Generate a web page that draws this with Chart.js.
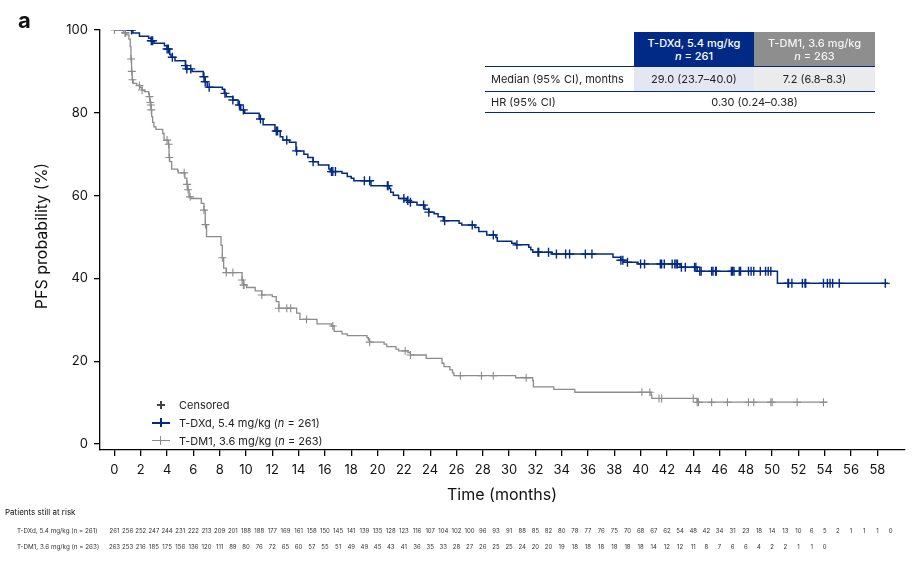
<!DOCTYPE html>
<html>
<head>
<meta charset="utf-8">
<script src="https://cdn.jsdelivr.net/npm/chart.js@4.4.1/dist/chart.umd.min.js"></script>
<style>
  body { margin: 0; background: #fff; font-family: Inter, "Liberation Sans", sans-serif; }
  #wrap { position: relative; width: 918px; height: 562px; overflow: hidden; }
  #chart { position: absolute; left: 0; top: 0; }
  .abs { position: absolute; }
  .hd { display: flex; flex-direction: column; justify-content: center; align-items: center;
        font-size: 11px; font-weight: 500; line-height: 13px; }
  .cell { display: flex; align-items: center; font-size: 11px; color: #222; }
  .hline { background: #002a86; height: 1.3px; }
  .leg { font-size: 11px; color: #222; left: 179px; line-height: 14px; }
</style>
</head>
<body>
<div id="wrap">
  <canvas id="chart" width="918" height="562"></canvas>

  <!-- tabel median / HR kanan atas -->
  <div class="abs hd" style="left:634px;top:32px;width:120px;height:35px;background:#002a86;color:#fff">
    <div>T-DXd, 5.4 mg/kg</div><div><i>n</i> = 261</div>
  </div>
  <div class="abs hd" style="left:754px;top:32px;width:121px;height:35px;background:#8e8e8e;color:#f4f4f4">
    <div>T-DM1, 3.6 mg/kg</div><div><i>n</i> = 263</div>
  </div>
  <div class="abs" style="left:634px;top:67px;width:120px;height:24px;background:#e3e7f1"></div>
  <div class="abs" style="left:754px;top:67px;width:121px;height:24px;background:#ebebeb"></div>
  <div class="abs hline" style="left:485px;top:66px;width:390px"></div>
  <div class="abs hline" style="left:485px;top:90.5px;width:390px;height:1px"></div>
  <div class="abs hline" style="left:485px;top:112px;width:390px"></div>
  <div class="abs cell" style="left:491px;top:67px;height:24px">Median (95% CI), months</div>
  <div class="abs cell" style="left:634px;top:67px;width:120px;height:24px;justify-content:center">29.0 (23.7–40.0)</div>
  <div class="abs cell" style="left:754px;top:67px;width:121px;height:24px;justify-content:center">7.2 (6.8–8.3)</div>
  <div class="abs cell" style="left:491px;top:91px;height:21px">HR (95% CI)</div>
  <div class="abs cell" style="left:634px;top:91px;width:241px;height:21px;justify-content:center">0.30 (0.24–0.38)</div>

  <!-- legenda -->
  <div class="abs" style="left:157px;top:404.3px;width:8px;height:1.5px;background:#444"></div>
  <div class="abs" style="left:160.2px;top:401px;width:1.5px;height:8px;background:#444"></div>
  <div class="abs leg" style="top:398px">Censored</div>

  <div class="abs" style="left:152px;top:422px;width:18px;height:1.5px;background:#002a86"></div>
  <div class="abs" style="left:160px;top:418px;width:1.5px;height:9px;background:#002a86"></div>
  <div class="abs leg" style="top:415.5px">T-DXd, 5.4 mg/kg (<i>n</i> = 261)</div>

  <div class="abs" style="left:152px;top:440px;width:18px;height:1.3px;background:#8c8c8c"></div>
  <div class="abs" style="left:160px;top:436px;width:1.3px;height:9px;background:#8c8c8c"></div>
  <div class="abs leg" style="top:433.5px">T-DM1, 3.6 mg/kg (<i>n</i> = 263)</div>
</div>

<script>
// --- Data kurva Kaplan-Meier ---
const blueTimes = [0, 1.4, 1.9, 2.6, 2.8, 3.0, 3.8, 4.0, 4.2, 4.3, 4.6, 5.4, 5.5, 5.9, 6.75, 6.9, 7.05, 8.2, 8.35, 8.5,
  9.0, 9.4, 9.6, 9.9, 11.0, 11.3, 12.2, 12.6, 12.8, 13.3, 13.8, 14.4, 14.7, 15.1, 15.5, 16.3, 16.4, 17.3, 17.7, 18.0,
  18.2, 19.5, 20.9, 21.0, 21.2, 21.6, 22.2, 22.5, 23.0, 23.6, 23.9, 24.3, 24.6, 25.0, 26.2, 26.4, 27.4, 27.7, 28.3, 29.0,
  29.1, 30.2, 30.5, 31.5, 31.65, 31.8, 33.2, 37.9, 38.5, 38.7, 39.8, 43.0, 44.3, 50.4, 58.8];
const blueSurv = [100, 99.3, 98.5, 98.0, 97.4, 96.8, 96.2, 95.4, 94.1, 93.4, 92.6, 91.4, 90.6, 90.0, 88.7, 87.5, 86.2, 85.7, 84.7, 83.9,
  83.1, 81.9, 80.7, 79.9, 78.5, 77.1, 75.6, 74.2, 73.4, 72.9, 70.8, 70.0, 69.2, 68.2, 67.4, 66.4, 65.8, 65.4, 64.6, 64.2,
  63.6, 62.4, 61.7, 60.8, 60.1, 59.3, 58.8, 58.4, 57.7, 56.7, 56.0, 55.6, 54.9, 53.9, 53.3, 52.9, 52.3, 51.3, 50.5, 49.9,
  49.0, 48.5, 48.1, 47.5, 46.9, 46.3, 45.9, 45.1, 44.4, 43.9, 43.5, 42.7, 41.7, 38.8, 38.8];
const blueCens = [1.3, 2.8, 2.9, 4.0, 4.1, 4.4, 5.4, 5.5, 5.8, 6.8, 6.9, 7.2, 8.4, 9.0, 9.5, 9.8, 11.1, 12.3, 12.4, 13.1,
  13.85, 15.1, 16.5, 16.6, 16.8, 19.0, 19.4, 20.75, 20.8, 22.0, 22.3, 22.5, 23.5, 23.9, 25.1, 27.2, 28.8, 30.6, 32.2, 32.25,
  33.0, 33.6, 34.3, 34.6, 35.8, 36.3, 38.5, 38.65, 39.0, 40.0, 40.3, 41.5, 41.6, 41.8, 42.4, 42.6, 42.7, 42.8, 43.1, 43.4,
  44.1, 44.2, 44.5, 44.6, 45.4, 45.5, 45.7, 45.75, 46.9, 47.0, 47.1, 47.5, 47.6, 48.2, 48.4, 48.6, 49.1, 49.5, 49.7, 49.9,
  51.2, 51.25, 51.5, 52.3, 52.5, 52.55, 53.9, 54.2, 54.4, 54.6, 55.1, 58.6];

const grayTimes = [0, 0.67, 0.9, 1.1, 1.2, 1.25, 1.3, 1.35, 1.43, 1.7, 1.95, 2.1, 2.27, 2.6, 2.65, 2.7, 2.75, 2.8, 2.83, 2.9,
  3.0, 3.15, 3.67, 3.77, 4.1, 4.15, 4.2, 4.35, 4.8, 4.85, 5.35, 5.5, 5.57, 5.67, 5.8, 6.6, 6.8, 6.9, 7.0, 8.1,
  8.2, 8.3, 8.5, 9.7, 9.8, 10.05, 10.7, 11.2, 12.0, 12.3, 12.5, 13.85, 14.1, 15.4, 16.5, 16.7, 17.3, 17.7, 19.2, 19.3,
  19.4, 20.5, 20.7, 21.4, 21.6, 22.3, 22.5, 23.7, 24.9, 25.05, 25.5, 25.7, 25.8, 30.5, 31.8, 31.85, 33.4, 35.0, 40.8, 40.85,
  44.3, 54.2];
const graySurv = [100, 99.3, 98.8, 97.8, 96.0, 93.0, 90.0, 88.0, 87.1, 86.6, 86.1, 85.5, 85.1, 84.5, 83.9, 82.5, 81.9, 80.7, 79.1, 77.7,
  76.6, 76.0, 75.0, 73.4, 72.4, 69.2, 68.2, 66.4, 66.0, 65.5, 64.2, 62.7, 61.4, 59.7, 59.3, 58.1, 56.5, 53.0, 50.1, 48.0,
  45.0, 42.5, 41.4, 39.6, 38.4, 37.8, 37.0, 36.0, 35.6, 34.4, 32.8, 31.6, 30.1, 29.0, 28.5, 27.2, 26.6, 26.2, 25.7, 25.1,
  24.6, 24.1, 23.5, 22.9, 22.5, 22.1, 21.5, 20.7, 19.5, 18.7, 17.9, 17.2, 16.5, 16.0, 15.3, 13.8, 13.2, 12.5, 11.8, 11.0,
  10.1, 10.1];
const grayCens = [0, 0.8, 0.85, 1.27, 1.32, 1.37, 1.9, 2.1, 2.66, 2.72, 2.77, 2.8, 4.0, 4.12, 4.17, 5.3, 5.52, 5.6, 5.75, 6.8,
  6.92, 8.2, 8.5, 9.0, 9.7, 9.8, 9.85, 11.2, 12.5, 13.1, 13.4, 14.6, 16.6, 19.4, 22.1, 22.5, 26.3, 27.9, 28.8, 31.3,
  40.1, 40.7, 41.4, 41.6, 44.0, 44.3, 44.4, 45.4, 46.6, 48.2, 48.6, 49.9, 50.0, 51.9, 53.9];

// --- Jumlah pasien at risk (setiap bulan) ---
const blueRisk = [261, 256, 252, 247, 244, 231, 222, 213, 209, 201, 188, 188, 177, 169, 161, 158, 150, 145, 141, 139,
  135, 128, 123, 116, 107, 104, 102, 100, 96, 93, 91, 88, 85, 82, 80, 78, 77, 76, 75, 70,
  68, 67, 62, 54, 48, 42, 34, 31, 23, 18, 14, 13, 10, 6, 5, 2, 1, 1, 1, 0];
const grayRisk = [263, 253, 216, 185, 175, 156, 136, 120, 111, 89, 80, 76, 72, 65, 60, 57, 55, 51, 49, 49,
  45, 43, 41, 36, 35, 33, 28, 27, 26, 25, 25, 24, 20, 20, 19, 18, 18, 18, 18, 18,
  18, 14, 12, 12, 11, 8, 7, 6, 6, 4, 2, 2, 1, 1, 0];

const xTicks = [0, 2, 4, 6, 8, 10, 12, 14, 16, 18, 20, 22, 24, 26, 28, 30, 32, 34, 36, 38, 40, 42, 44, 46, 48, 50, 52, 54, 56, 58];
const yTicks = [0, 20, 40, 60, 80, 100];

const NAVY = '#002a86';
const GREY = '#8c8c8c';
const FONT = 'Inter, "Liberation Sans", sans-serif';

// nilai kurva pada waktu t (untuk posisi tanda censored)
function survAt(times, surv, t) {
  let s = surv[0];
  for (let i = 0; i < times.length; i++) {
    if (times[i] <= t) s = surv[i];
  }
  return s;
}

const toPoints = (times, surv) => times.map((t, i) => ({ x: t, y: surv[i] }));
const censPoints = (cens, times, surv) => cens.map(t => ({ x: t, y: survAt(times, surv, t) }));

// teks tambahan: judul sumbu, huruf panel, tabel at risk
const extraText = {
  id: 'extraText',
  afterDraw(chart) {
    const ctx = chart.ctx;
    const xs = chart.scales.x;
    ctx.save();
    ctx.fillStyle = '#111';
    ctx.textBaseline = 'middle';

    ctx.font = 'bold 22px ' + FONT;
    ctx.textAlign = 'left';
    ctx.fillText('a', 18, 21);

    ctx.font = '16px ' + FONT;
    ctx.textAlign = 'center';
    ctx.fillText('Time (months)', 502, 495);
    ctx.save();
    ctx.translate(42, 236);
    ctx.rotate(-Math.PI / 2);
    ctx.fillText('PFS probability (%)', 0, 0);
    ctx.restore();

    ctx.font = '8px ' + FONT;
    ctx.textAlign = 'left';
    ctx.fillText('Patients still at risk', 5, 513);

    ctx.font = '6.3px ' + FONT;
    ctx.fillStyle = '#333';
    ctx.fillText('T-DXd, 5.4 mg/kg (n = 261)', 17, 531.5);
    ctx.fillText('T-DM1, 3.6 mg/kg (n = 263)', 17, 547);
    ctx.textAlign = 'center';
    ctx.font = '6px ' + FONT;
    blueRisk.forEach((n, i) => ctx.fillText(String(n), xs.getPixelForValue(i), 531.5));
    grayRisk.forEach((n, i) => ctx.fillText(String(n), xs.getPixelForValue(i), 547));
    ctx.restore();
  }
};

Chart.defaults.font.family = FONT;

new Chart(document.getElementById('chart').getContext('2d'), {
  type: 'line',
  data: {
    datasets: [
      {
        data: toPoints(grayTimes, graySurv),
        borderColor: GREY, borderWidth: 1.3, stepped: 'before', pointRadius: 0, fill: false
      },
      {
        type: 'scatter',
        data: censPoints(grayCens, grayTimes, graySurv),
        pointStyle: 'cross', pointRadius: 4, pointBorderWidth: 1.1,
        pointBorderColor: GREY, showLine: false
      },
      {
        data: toPoints(blueTimes, blueSurv),
        borderColor: NAVY, borderWidth: 1.5, stepped: 'before', pointRadius: 0, fill: false
      },
      {
        type: 'scatter',
        data: censPoints(blueCens, blueTimes, blueSurv),
        pointStyle: 'cross', pointRadius: 4.5, pointBorderWidth: 1.4,
        pointBorderColor: NAVY, showLine: false
      }
    ]
  },
  options: {
    responsive: false,
    animation: false,
    layout: { padding: { left: 0, top: 30, right: 13, bottom: 0 } },
    plugins: {
      legend: { display: false },
      tooltip: { enabled: false }
    },
    scales: {
      x: {
        type: 'linear',
        min: -1.1,
        max: 60.1,
        afterBuildTicks: s => { s.ticks = xTicks.map(v => ({ value: v })); },
        afterFit: s => { s.height = 112; },
        ticks: { font: { size: 13 }, color: '#111', padding: 6, maxRotation: 0, autoSkip: false },
        grid: { drawOnChartArea: false, drawTicks: true, tickLength: 6, color: '#000', lineWidth: 1.3 },
        border: { color: '#000', width: 1.3 }
      },
      y: {
        min: -1.45,
        max: 100,
        afterBuildTicks: s => { s.ticks = yTicks.map(v => ({ value: v })); },
        afterFit: s => { s.width = 100; },
        ticks: { font: { size: 13 }, color: '#111', padding: 6 },
        grid: { drawOnChartArea: false, drawTicks: true, tickLength: 6, color: '#000', lineWidth: 1.3 },
        border: { color: '#000', width: 1.3 }
      }
    }
  },
  plugins: [extraText]
});
</script>
</body>
</html>
